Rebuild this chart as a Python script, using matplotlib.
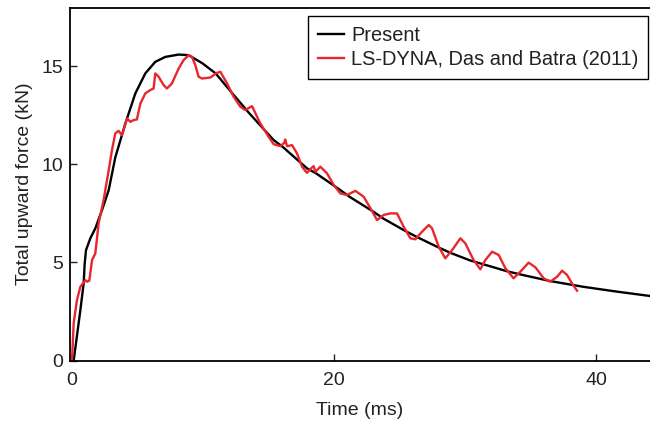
import matplotlib
matplotlib.use("Agg")
import matplotlib.pyplot as plt

plt.rcParams['font.family'] = ['Liberation Sans', 'DejaVu Sans']

# Present (black)
present_t = [0.18, 0.69, 0.94, 1.02, 1.12, 1.45, 1.83, 2.34, 2.85, 3.35, 4.12, 4.88, 5.64,
             6.4, 7.16, 8.18, 8.94, 10.0, 11.0, 12.3, 13.57, 15.42, 16.1, 17.96, 18.66,
             20.5, 21.2, 23.04, 23.75, 25.33, 26.3, 27.87, 28.85, 30.4, 31.94, 33.2,
             34.47, 36.5, 39.0, 41.6, 44.1]
present_f = [0.0, 2.57, 3.93, 4.95, 5.63, 6.23, 6.74, 7.67, 8.69, 10.35, 12.09, 13.62, 14.64,
             15.23, 15.48, 15.6, 15.57, 15.15, 14.64, 13.6, 12.6, 11.24, 10.9, 9.8, 9.54,
             8.69, 8.35, 7.58, 7.25, 6.65, 6.31, 5.8, 5.5, 5.1, 4.8, 4.55,
             4.35, 4.05, 3.76, 3.51, 3.29]

# LS-DYNA, Das and Batra (2011) (red)
dyna_t = [0.05, 0.18, 0.43, 0.69, 1.07, 1.2, 1.37, 1.58, 1.83, 2.08, 2.46, 2.85, 3.1, 3.35,
          3.6, 3.86, 4.25, 4.5, 4.75, 5.0, 5.26, 5.64, 6.02, 6.27, 6.4, 6.65, 7.04, 7.29,
          7.67, 8.18, 8.56, 8.94, 9.2, 9.45, 9.7, 9.96, 10.6, 11.1, 11.36, 11.87, 12.37,
          12.88, 13.26, 13.77, 14.4, 15.04, 15.42, 15.93, 16.23, 16.3, 16.44, 16.82, 17.2,
          17.58, 17.96, 18.27, 18.47, 18.6, 18.98, 19.49, 20.0, 20.5, 21.0, 21.65, 22.28,
          22.8, 23.3, 23.8, 24.3, 24.82, 25.33, 25.84, 26.22, 26.73, 27.24, 27.49, 28.0,
          28.5, 29.02, 29.65, 30.03, 30.66, 31.17, 31.55, 32.07, 32.57, 33.08, 33.7, 34.22,
          34.85, 35.37, 36.0, 36.5, 37.02, 37.4, 37.78, 38.16, 38.54]
dyna_f = [0.0, 1.9, 3.08, 3.76, 4.1, 4.02, 4.07, 5.12, 5.46, 6.99, 8.18, 9.71, 10.73, 11.58,
          11.71, 11.49, 12.34, 12.17, 12.26, 12.29, 13.1, 13.62, 13.79, 13.87, 14.64, 14.47,
          14.04, 13.87, 14.13, 14.89, 15.32, 15.57, 15.48, 15.06, 14.47, 14.38, 14.43, 14.67,
          14.72, 14.13, 13.45, 12.94, 12.77, 12.97, 12.09, 11.41, 11.03, 10.93, 11.1, 11.27,
          10.93, 10.98, 10.56, 9.88, 9.57, 9.8, 9.91, 9.62, 9.88, 9.54, 8.95, 8.52, 8.44,
          8.65, 8.35, 7.76, 7.16, 7.42, 7.5, 7.5, 6.82, 6.23, 6.18, 6.57, 6.91, 6.74, 5.8,
          5.21, 5.63, 6.23, 5.97, 5.12, 4.65, 5.12, 5.55, 5.38, 4.7, 4.19, 4.53, 4.99, 4.75,
          4.19, 4.02, 4.27, 4.58, 4.36, 3.93, 3.56]

txt = '#222222'

fig = plt.figure(figsize=(6.5, 4.22), dpi=100)
ax = fig.add_axes([70 / 650, 61.5 / 422, 580 / 650, 353 / 422])

ax.plot(present_t, present_f, color='black', lw=1.7, solid_joinstyle='round',
        label='Present')
ax.plot(dyna_t, dyna_f, color='#e8262d', lw=1.7, solid_joinstyle='round',
        label='LS-DYNA, Das and Batra (2011)')

ax.set_xlim(-0.1, 44.1)
ax.set_ylim(0, 18)
ax.set_xticks([0, 20, 40])
ax.set_yticks([0, 5, 10, 15])
ax.tick_params(direction='in', length=5, width=1, labelsize=14, colors=txt, pad=5)
ax.tick_params(axis='x', pad=8.5)
ax.spines['right'].set_visible(False)
for s in ['left', 'bottom', 'top']:
    ax.spines[s].set_linewidth(1.3)

ax.set_xlabel('Time (ms)', fontsize=14, color=txt, labelpad=9)
ax.set_ylabel('Total upward force (kN)', fontsize=14, color=txt, labelpad=6)

leg = ax.legend(loc='upper right', bbox_to_anchor=(0.997, 0.975), borderaxespad=0,
                fancybox=False, fontsize=14.4, handlelength=1.3, handletextpad=0.35,
                labelspacing=0.25, borderpad=0.5, framealpha=1)
leg.get_frame().set_edgecolor('black')
leg.get_frame().set_linewidth(1.0)
for t in leg.get_texts():
    t.set_color(txt)

fig.savefig('out.png', dpi=100)
